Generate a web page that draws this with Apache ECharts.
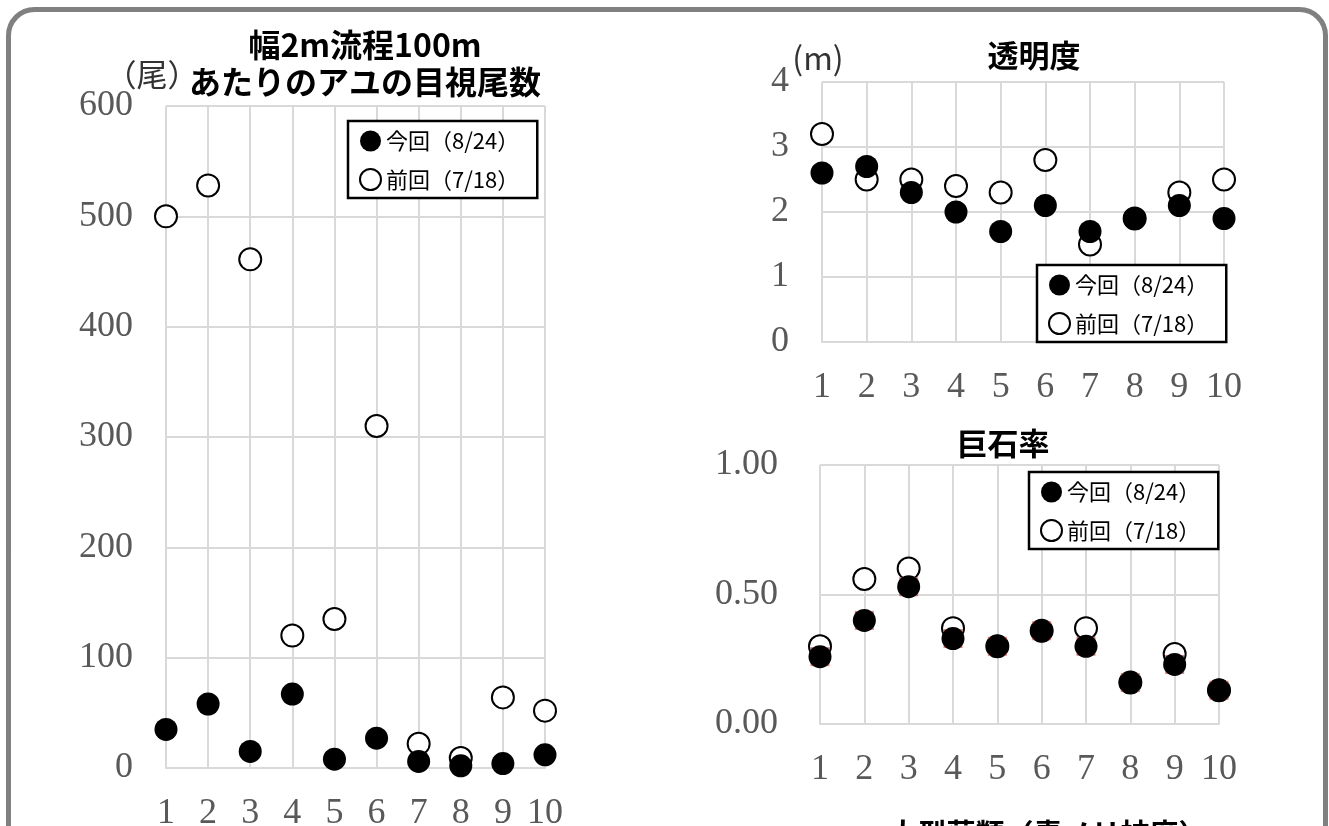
<!DOCTYPE html>
<html>
<head>
<meta charset="utf-8">
<script src="https://cdn.jsdelivr.net/npm/echarts@6/dist/echarts.min.js"></script>
<style>
html,body{margin:0;padding:0;background:#fff;}
#c{width:1329px;height:826px;}
</style>
</head>
<body>
<div id="c"></div>
<script>
// ---- data ----
const categories = ['1','2','3','4','5','6','7','8','9','10'];
const seriesNames = ['今回（8/24）', '前回（7/18）'];
// 幅2m流程100mあたりのアユの目視尾数 (尾)
const ayuCurrent  = [35, 58, 15, 67, 8, 27, 6, 2, 4, 12];
const ayuPrevious = [500, 528, 461, 120, 135, 310, 22, 9, 64, 52];
// 透明度 (m)
const clarityCurrent  = [2.6, 2.7, 2.3, 2.0, 1.7, 2.1, 1.7, 1.9, 2.1, 1.9];
const clarityPrevious = [3.2, 2.5, 2.5, 2.4, 2.3, 2.8, 1.5, 1.9, 2.3, 2.5];
// 巨石率
const boulderCurrent  = [0.26, 0.40, 0.53, 0.33, 0.30, 0.36, 0.30, 0.16, 0.23, 0.13];
const boulderPrevious = [0.30, 0.56, 0.60, 0.37, 0.30, 0.36, 0.37, 0.16, 0.27, 0.13];

const titles = {
  ayu1: '幅2m流程100m',
  ayu2: 'あたりのアユの目視尾数',
  ayuUnit: '（尾）',
  clarity: '透明度',
  clarityUnit: '(m)',
  boulder: '巨石率',
  algae: '大型藻類（青ノリ被度）'
};

// ---- styles ----
const serif = 'Liberation Serif';
const sans = '"Noto Sans CJK JP", "Noto Sans", sans-serif';
const gridColor = '#d9d9d9';
const labelColor = '#595959';

function xAxis(gi) {
  return {
    type: 'category', gridIndex: gi, data: categories, boundaryGap: false,
    axisLine: { show: true, lineStyle: { color: gridColor, width: 2 } },
    axisTick: { show: false },
    axisLabel: { color: labelColor, fontFamily: serif, fontSize: 36, margin: 28, interval: 0 },
    splitLine: { show: true, interval: 0, lineStyle: { color: gridColor, width: 2 } }
  };
}
function yAxis(gi, min, max, interval, margin, fmt) {
  return {
    type: 'value', gridIndex: gi, min: min, max: max, interval: interval,
    axisLine: { show: false }, axisTick: { show: false },
    axisLabel: { color: labelColor, fontFamily: serif, fontSize: 36, margin: margin, formatter: fmt },
    splitLine: { show: true, lineStyle: { color: gridColor, width: 2 } }
  };
}
const filledStyle = { color: '#000', borderColor: '#000', borderWidth: 0, opacity: 1 };
const openStyle = { color: '#fff', borderColor: '#000', borderWidth: 2, opacity: 1 };

function pair(gi, cur, prev) {
  return [
    { name: seriesNames[1], type: 'scatter', xAxisIndex: gi, yAxisIndex: gi, data: prev,
      symbol: 'circle', symbolSize: 22, itemStyle: openStyle, z: 2 },
    { name: seriesNames[0], type: 'scatter', xAxisIndex: gi, yAxisIndex: gi, data: cur,
      symbol: 'circle', symbolSize: 23, itemStyle: filledStyle, z: 4 }
  ];
}
function legend(left, top) {
  return {
    orient: 'vertical', left: left, top: top,
    data: [
      { name: seriesNames[0], icon: 'circle', itemStyle: filledStyle },
      { name: seriesNames[1], icon: 'circle', itemStyle: openStyle }
    ],
    itemWidth: 21, itemHeight: 21, itemGap: 16,
    padding: [9, 18, 7, 11],
    borderColor: '#000', borderWidth: 2.5, backgroundColor: '#fff',
    selectedMode: false,
    textStyle: { fontFamily: sans, fontSize: 22, color: '#000' }
  };
}

const series = [].concat(
  pair(0, ayuCurrent, ayuPrevious),
  pair(1, clarityCurrent, clarityPrevious),
  [{ name: '_marker', type: 'scatter', xAxisIndex: 2, yAxisIndex: 2, data: boulderCurrent,
     symbol: 'rect', symbolSize: 19, itemStyle: { color: '#d0605c' }, z: 3 }],
  pair(2, boulderCurrent, boulderPrevious)
);

const chart = echarts.init(document.getElementById('c'), null, { renderer: 'canvas' });
chart.setOption({
  animation: false,
  backgroundColor: '#fff',
  grid: [
    { left: 166, right: 784, top: 106, bottom: 58, outerBoundsMode: 'none', containLabel: false },
    { left: 822, right: 105, top: 82, bottom: 484, outerBoundsMode: 'none', containLabel: false },
    { left: 820, right: 110, top: 465, bottom: 102, outerBoundsMode: 'none', containLabel: false }
  ],
  xAxis: [xAxis(0), xAxis(1), xAxis(2)],
  yAxis: [
    yAxis(0, 0, 600, 100, 33),
    yAxis(1, 0, 4, 1, 33),
    yAxis(2, 0, 1, 0.5, 42, v => v.toFixed(2))
  ],
  legend: [legend(348, 121), legend(1037, 265), legend(1029, 472)],
  series: series,
  graphic: [
    { type: 'rect', shape: { x: 8.5, y: 9.5, width: 1317, height: 900, r: 26 },
      style: { fill: 'none', stroke: '#808080', lineWidth: 5 }, z: 100 },
    { type: 'text', style: { text: titles.ayu1, x: 365, y: 45, align: 'center', verticalAlign: 'middle',
      font: 'bold 32px ' + sans, fill: '#000' } },
    { type: 'text', style: { text: titles.ayu2, x: 365, y: 82, align: 'center', verticalAlign: 'middle',
      font: 'bold 32px ' + sans, fill: '#000' } },
    { type: 'text', style: { text: titles.ayuUnit, x: 152, y: 74, align: 'center', verticalAlign: 'middle',
      font: '31px ' + sans, fill: '#333' } },
    { type: 'text', style: { text: titles.clarityUnit, x: 818, y: 58, align: 'center', verticalAlign: 'middle',
      font: '32px ' + sans, fill: '#333' } },
    { type: 'text', style: { text: titles.clarity, x: 1034, y: 55, align: 'center', verticalAlign: 'middle',
      font: 'bold 31px ' + sans, fill: '#000' } },
    { type: 'text', style: { text: titles.boulder, x: 1003, y: 443, align: 'center', verticalAlign: 'middle',
      font: 'bold 31px ' + sans, fill: '#000' } },
    { type: 'text', style: { text: titles.algae, x: 1048, y: 819, align: 'center', verticalAlign: 'top',
      font: 'bold 29px ' + sans, fill: '#000' } }
  ]
});
</script>
</body>
</html>
